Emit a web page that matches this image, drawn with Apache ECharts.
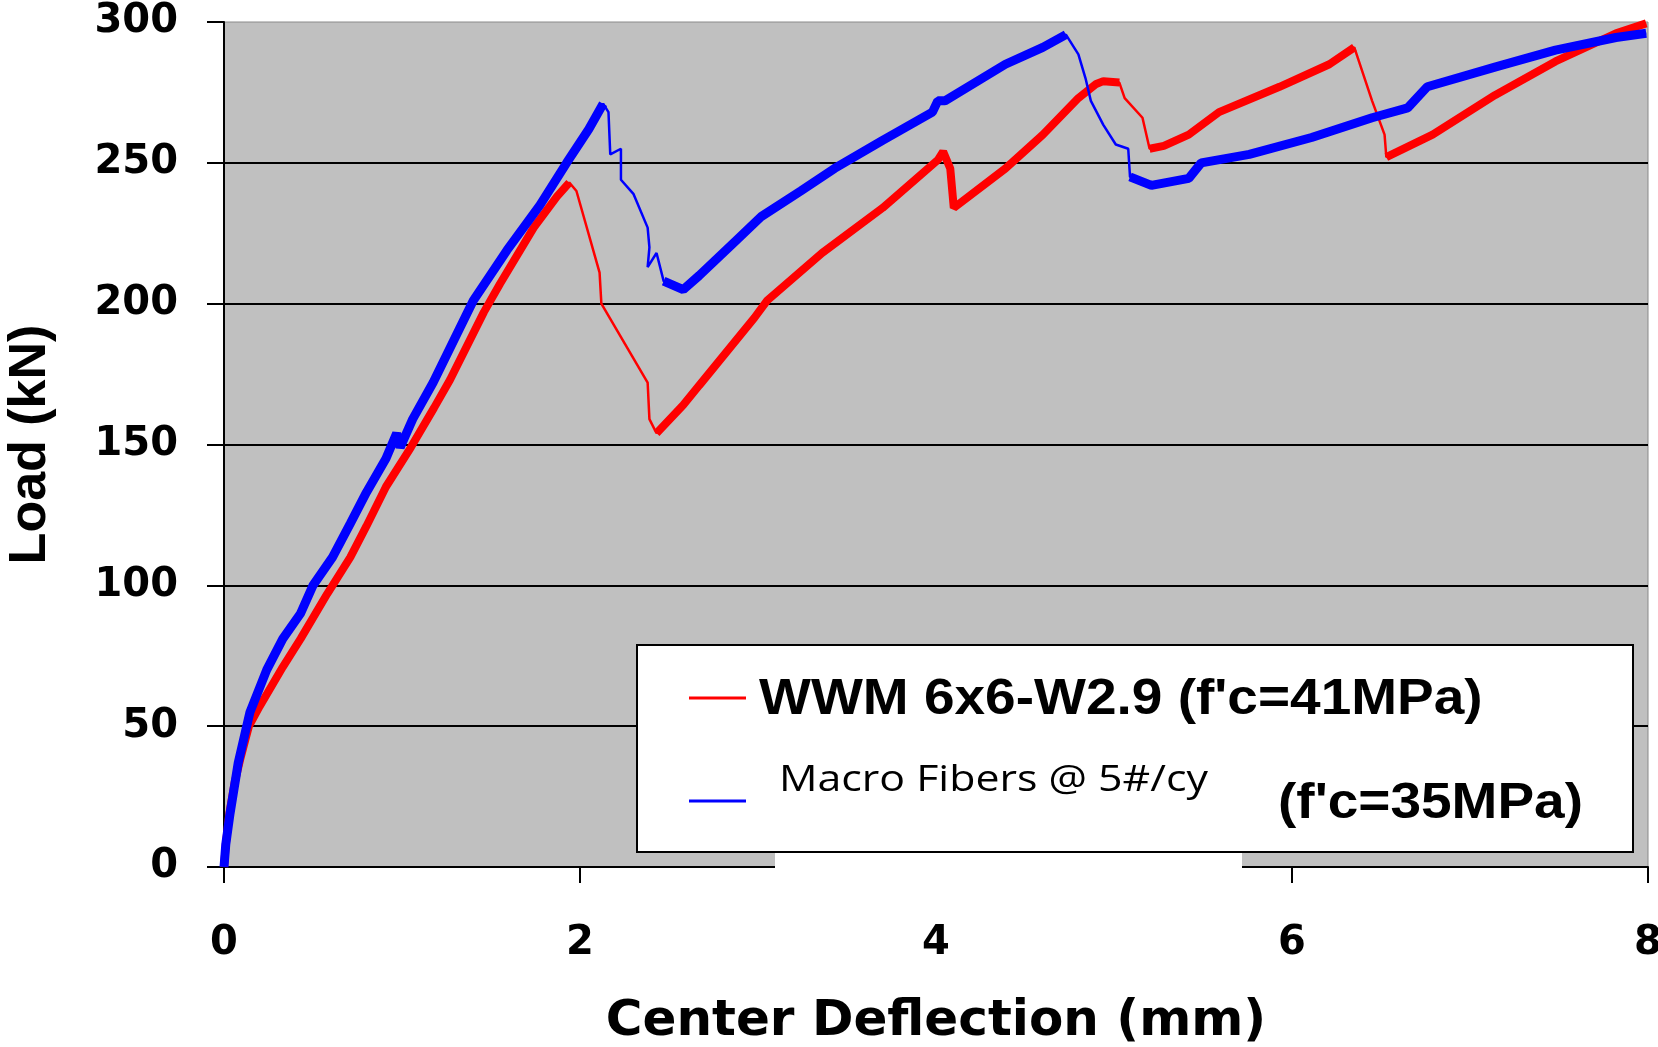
<!DOCTYPE html>
<html>
<head>
<meta charset="utf-8">
<script src="https://cdn.jsdelivr.net/npm/echarts@6/dist/echarts.min.js"></script>
<style>
  html, body { margin: 0; padding: 0; background: #fff; }
  #chart { width: 1658px; height: 1047px; }
</style>
</head>
<body>
<div id="chart"></div>
<script>
// 轴刻度
var xTicks = [0, 2, 4, 6, 8];
var yTicks = [0, 50, 100, 150, 200, 250, 300];

// WWM 6x6-W2.9 (f'c=41MPa) - [deflection mm, load kN]
var wwmPoints = [
  [0, 0], [0.01, 8], [0.03, 19], [0.06, 30], [0.09, 38], [0.14, 50], [0.20, 57],
  [0.33, 71], [0.43, 81], [0.58, 97], [0.71, 110], [0.80, 121], [0.91, 135],
  [1.05, 149], [1.18, 163], [1.27, 173], [1.46, 197], [1.55, 207], [1.74, 227],
  [1.87, 238], [1.94, 243],
  [1.98, 240], [2.11, 211], [2.12, 200], [2.38, 172], [2.39, 159], [2.43, 154],
  [2.58, 164], [2.67, 171], [2.98, 195], [3.05, 201], [3.36, 218], [3.70, 234],
  [4.01, 251], [4.04, 254], [4.08, 248], [4.10, 234],
  [4.39, 248], [4.60, 260], [4.80, 273], [4.90, 278], [4.94, 279], [5.03, 278.5],
  [5.06, 273], [5.16, 266], [5.20, 255],
  [5.28, 256], [5.42, 260], [5.59, 268], [5.93, 277], [6.21, 285], [6.35, 291],
  [6.45, 272], [6.52, 260], [6.53, 252],
  [6.79, 260], [7.14, 274], [7.48, 286], [7.82, 296], [7.99, 299.5]
];
// 细线段（卸载段）的起止下标
var wwmThin = [[20, 26], [42, 45], [51, 54]];

// Macro Fibers @ 5#/cy (f'c=35MPa)
var macroPoints = [
  [0, 0], [0.01, 8], [0.034, 19], [0.08, 37], [0.146, 55], [0.24, 70], [0.33, 81],
  [0.43, 90], [0.50, 100], [0.61, 110], [0.71, 122], [0.80, 133], [0.91, 145],
  [0.97, 154], [0.99, 149], [1.06, 159], [1.175, 172], [1.40, 201], [1.59, 219],
  [1.775, 235], [1.925, 250], [2.05, 262], [2.13, 271],
  [2.16, 268], [2.17, 253], [2.23, 255], [2.23, 244], [2.30, 239], [2.38, 227],
  [2.39, 220], [2.38, 213], [2.43, 218], [2.47, 208],
  [2.58, 205], [2.67, 210], [2.87, 222], [3.02, 231], [3.24, 240], [3.43, 248],
  [3.70, 258], [3.98, 268], [4.01, 272], [4.05, 272], [4.39, 285], [4.60, 291],
  [4.73, 295.5],
  [4.80, 288.5], [4.84, 280], [4.87, 272], [4.94, 263.5], [5.01, 256.5], [5.08, 255],
  [5.09, 245],
  [5.21, 242], [5.42, 244.5], [5.49, 250], [5.76, 253], [6.11, 259], [6.45, 266],
  [6.65, 269.5], [6.76, 277], [7.14, 284], [7.48, 290], [7.82, 294.5], [7.99, 296]
];
var macroThin = [[22, 32], [45, 52]];

// 粗线部分：细线段内部的点换成 null
function thickPart(points, thin) {
  var out = [];
  for (var i = 0; i < points.length; i++) {
    var inside = false;
    for (var k = 0; k < thin.length; k++) {
      if (i > thin[k][0] && i < thin[k][1]) { inside = true; }
      if (i == thin[k][0] + 1) { out.push(null); }
    }
    if (!inside) out.push(points[i]);
  }
  return out;
}

var chart = echarts.init(document.getElementById('chart'));
var option = {
  animation: false,
  grid: {
    left: 224, right: 10, top: 22, bottom: 180,
    outerBoundsMode: 'none',
    show: true,
    backgroundColor: '#C0C0C0',
    borderColor: '#8a8a8a',
    borderWidth: 1
  },
  xAxis: {
    type: 'value',
    min: xTicks[0], max: xTicks[xTicks.length - 1], interval: 2,
    name: 'Center Deflection (mm)',
    nameLocation: 'middle',
    nameGap: 130,
    nameTextStyle: { fontFamily: 'DejaVu Sans', fontWeight: 'bold', fontSize: 50, color: '#000' },
    axisLine: { show: true, onZero: false, lineStyle: { color: '#000', width: 2 } },
    axisTick: { show: true, length: 16, lineStyle: { color: '#000', width: 2 } },
    axisLabel: { margin: 57, fontFamily: 'DejaVu Sans', fontWeight: 'bold', fontSize: 40, color: '#000' },
    splitLine: { show: false }
  },
  yAxis: {
    type: 'value',
    min: yTicks[0], max: yTicks[yTicks.length - 1], interval: 50,
    name: 'Load (kN)',
    nameLocation: 'middle',
    nameGap: 167,
    nameTextStyle: { fontFamily: 'Liberation Sans', fontWeight: 'bold', fontSize: 52, color: '#000' },
    axisLine: { show: true, onZero: false, lineStyle: { color: '#000', width: 2 } },
    axisTick: { show: true, length: 17, lineStyle: { color: '#000', width: 2 } },
    axisLabel: { margin: 46, fontFamily: 'DejaVu Sans', fontWeight: 'bold', fontSize: 40, color: '#000' },
    splitLine: { show: true, showMinLine: false, showMaxLine: false, lineStyle: { color: '#000', width: 2 } }
  },
  series: [
    {
      name: 'WWM thin', type: 'line', data: wwmPoints, showSymbol: false, symbol: 'none',
      lineStyle: { color: '#FF0000', width: 2.5 }, z: 3
    },
    {
      name: 'WWM', type: 'line', data: thickPart(wwmPoints, wwmThin), showSymbol: false, symbol: 'none',
      connectNulls: false, lineStyle: { color: '#FF0000', width: 8 }, z: 3
    },
    {
      name: 'Macro thin', type: 'line', data: macroPoints, showSymbol: false, symbol: 'none',
      lineStyle: { color: '#0000FF', width: 2.5 }, z: 4
    },
    {
      name: 'Macro', type: 'line', data: thickPart(macroPoints, macroThin), showSymbol: false, symbol: 'none',
      connectNulls: false, lineStyle: { color: '#0000FF', width: 9 }, z: 4
    }
  ],
  graphic: [
    // 图例框下方的白色块（原图遮住了横轴）
    { type: 'rect', z: 100, shape: { x: 775, y: 850, width: 467, height: 36 }, style: { fill: '#fff' } },
    { type: 'rect', z: 101, shape: { x: 637, y: 645, width: 996, height: 207 },
      style: { fill: '#fff', stroke: '#000', lineWidth: 2 } },
    { type: 'line', z: 102, shape: { x1: 689, y1: 698, x2: 746, y2: 698 },
      style: { stroke: '#FF0000', lineWidth: 3 } },
    { type: 'line', z: 102, shape: { x1: 689, y1: 801, x2: 746, y2: 801 },
      style: { stroke: '#0000FF', lineWidth: 3 } },
    { type: 'text', z: 102, x: 759, y: 700, scaleX: 1.1,
      style: { text: "WWM 6x6-W2.9 (f'c=41MPa)", font: 'bold 50px "Liberation Sans"', fill: '#000',
               textAlign: 'left', textVerticalAlign: 'middle' } },
    { type: 'text', z: 102, x: 779, y: 781, scaleX: 1.19,
      style: { text: 'Macro Fibers @ 5#/cy', font: '36px "Open Sans"', fill: '#000',
               textAlign: 'left', textVerticalAlign: 'middle' } },
    { type: 'text', z: 102, x: 1278, y: 804, scaleX: 1.1,
      style: { text: "(f'c=35MPa)", font: 'bold 50px "Liberation Sans"', fill: '#000',
               textAlign: 'left', textVerticalAlign: 'middle' } }
  ]
};
chart.setOption(option);
</script>
</body>
</html>
